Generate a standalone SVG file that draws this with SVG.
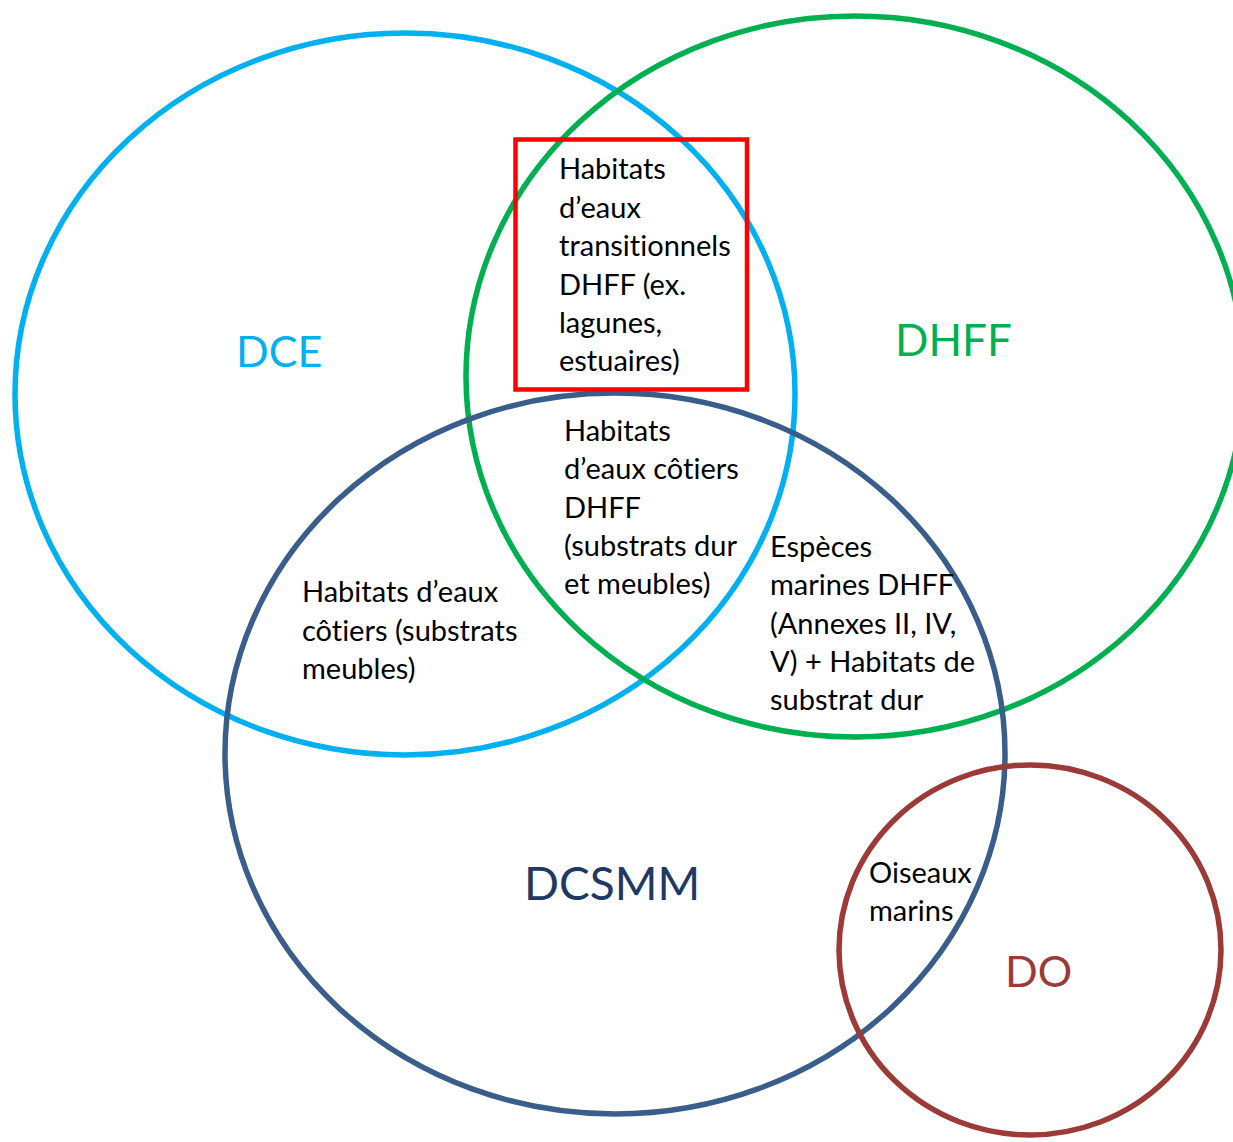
<svg xmlns="http://www.w3.org/2000/svg" width="1233" height="1142" viewBox="0 0 1233 1142">
  <style>
    .set { fill: none; stroke-width: 5.5; }
    .body { font-family: Lato, "Open Sans", "Liberation Sans", sans-serif; font-size: 29px; fill: #000000; font-variant-ligatures: none; }
    .label { font-family: Lato, "Open Sans", "Liberation Sans", sans-serif; font-variant-ligatures: none; }
  </style>
  <rect x="0" y="0" width="1233" height="1142" fill="#ffffff"/>

  <!-- Directive sets -->
  <g id="dce">
    <ellipse class="set" cx="405" cy="394" rx="390" ry="361" stroke="#00B0F0"/>
    <text class="label" x="236" y="367" font-size="43" fill="#00B0F0">DCE</text>
  </g>
  <g id="dhff">
    <ellipse class="set" cx="855" cy="376.5" rx="389" ry="360.5" stroke="#00B050"/>
    <text class="label" x="895" y="356" font-size="44" fill="#00B050">DHFF</text>
  </g>
  <g id="dcsmm">
    <ellipse class="set" cx="615" cy="753.5" rx="390" ry="360.5" stroke="#3A5E8C"/>
    <text class="label" x="524" y="900" font-size="46" fill="#203864">DCSMM</text>
  </g>
  <g id="do">
    <ellipse class="set" cx="1030" cy="950" rx="191" ry="185" stroke="#9B3A37"/>
    <text class="label" x="1005" y="987" font-size="43" fill="#9B3A37">DO</text>
  </g>

  <!-- Intersection descriptions -->
  <g id="transitional-habitats">
    <rect x="515.5" y="139.5" width="231.5" height="250" fill="none" stroke="#FF0000" stroke-width="4.5"/>
    <text class="body">
      <tspan x="559" y="179">Habitats</tspan>
      <tspan x="559" y="218">d’eaux</tspan>
      <tspan x="559" y="256">transitionnels</tspan>
      <tspan x="559" y="295">DHFF (ex.</tspan>
      <tspan x="559" y="333">lagunes,</tspan>
      <tspan x="559" y="371">estuaires)</tspan>
    </text>
  </g>
  <g id="coastal-habitats-dhff">
    <text class="body">
      <tspan x="564" y="441">Habitats</tspan>
      <tspan x="564" y="479">d’eaux côtiers</tspan>
      <tspan x="564" y="518">DHFF</tspan>
      <tspan x="564" y="556">(substrats dur</tspan>
      <tspan x="564" y="594">et meubles)</tspan>
    </text>
  </g>
  <g id="marine-species">
    <text class="body">
      <tspan x="770" y="557">Espèces</tspan>
      <tspan x="770" y="595">marines DHFF</tspan>
      <tspan x="770" y="634">(Annexes II, IV,</tspan>
      <tspan x="770" y="672">V) + Habitats de</tspan>
      <tspan x="770" y="710">substrat dur</tspan>
    </text>
  </g>
  <g id="coastal-habitats-soft">
    <text class="body">
      <tspan x="302" y="602">Habitats d’eaux</tspan>
      <tspan x="302" y="641">côtiers (substrats</tspan>
      <tspan x="302" y="679">meubles)</tspan>
    </text>
  </g>
  <g id="seabirds">
    <text class="body">
      <tspan x="869" y="883">Oiseaux</tspan>
      <tspan x="869" y="921">marins</tspan>
    </text>
  </g>

  <!-- No connectors in this diagram -->
  <g id="connectors"/>
</svg>
